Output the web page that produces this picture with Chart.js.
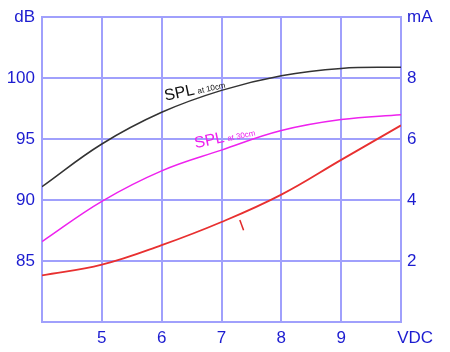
<!DOCTYPE html>
<html>
<head>
<meta charset="utf-8">
<script src="https://cdn.jsdelivr.net/npm/chart.js@4"></script>
<style>
  html, body { margin: 0; padding: 0; background: #fff; }
  #wrap { width: 450px; height: 352px; }
</style>
</head>
<body>
<div id="wrap"><canvas id="chart" width="450" height="352"></canvas></div>
<script>
// supply voltage (VDC)
const volts = [4, 5, 6, 7, 8, 9, 10];
// SPL at 10cm, dB
const spl10 = [91.1, 94.6, 97.2, 99.0, 100.2, 100.8, 100.9];
// SPL at 30cm, dB
const spl30 = [86.6, 89.9, 92.4, 94.1, 95.7, 96.6, 97.0];
// current, mA (right axis)
const current = [1.53, 1.88, 2.52, 3.28, 4.18, 5.32, 6.45];

const blue = "#1c1cd0";
const gridBlue = "#a0a0fc";
const font = { family: "Liberation Sans, Arial, sans-serif", size: 17 };

const pts = arr => arr.map((v, i) => ({ x: volts[i], y: v }));

// text labels on the curves
const curveLabels = {
  id: "curveLabels",
  afterDatasetsDraw(chart) {
    const { ctx, scales } = chart;
    const put = (x, y, scale, rot, color, parts) => {
      const px = scales.x.getPixelForValue(x);
      const py = scales[scale].getPixelForValue(y);
      ctx.save();
      ctx.translate(px, py);
      ctx.rotate(rot * Math.PI / 180);
      ctx.fillStyle = color;
      ctx.textBaseline = "middle";
      let dx = 0;
      parts.forEach(p => {
        ctx.font = p.size + "px Liberation Sans, Arial, sans-serif";
        ctx.fillText(p.text, dx, p.dy || 0);
        dx += ctx.measureText(p.text).width + (p.gap || 0);
      });
      ctx.restore();
    };
    put(6.05, 98.5, "y", -12, "#111", [
      { text: "SPL", size: 16, gap: 3 },
      { text: "at 10cm", size: 8, dy: 2 }
    ]);
    put(6.55, 94.6, "y", -12, "#ee22ee", [
      { text: "SPL", size: 16, gap: 3 },
      { text: "at 30cm", size: 8, dy: 2 }
    ]);
    put(7.31, 3.12, "y2", -20, "#e02828", [
      { text: "I", size: 16 }
    ]);
  }
};

new Chart(document.getElementById("chart"), {
  type: "line",
  data: {
    datasets: [
      {
        label: "SPL at 10cm",
        data: pts(spl10),
        borderColor: "#333333",
        borderWidth: 1.5,
        yAxisID: "y"
      },
      {
        label: "SPL at 30cm",
        data: pts(spl30),
        borderColor: "#ee22ee",
        borderWidth: 1.5,
        yAxisID: "y"
      },
      {
        label: "I",
        data: pts(current),
        borderColor: "#e83030",
        borderWidth: 1.8,
        yAxisID: "y2"
      }
    ]
  },
  options: {
    responsive: false,
    animation: false,
    layout: { padding: { top: 14, left: 0, right: 0, bottom: 0 } },
    elements: {
      point: { radius: 0 },
      line: { tension: 0.4 }
    },
    plugins: {
      legend: { display: false },
      tooltip: { enabled: false }
    },
    scales: {
      x: {
        type: "linear",
        min: 4,
        max: 10,
        afterFit: s => { s.height = 30; },
        border: { color: gridBlue, width: 2 },
        grid: { color: gridBlue, lineWidth: 2, drawTicks: false },
        ticks: {
          stepSize: 1,
          autoSkip: false,
          color: blue,
          font,
          padding: 6,
          maxRotation: 0,
          callback: v => v === 4 ? "" : v === 10 ? "      VDC" : v
        }
      },
      y: {
        position: "left",
        min: 80,
        max: 105,
        afterFit: s => { s.width = 42; },
        border: { color: gridBlue, width: 2 },
        grid: { color: gridBlue, lineWidth: 2, drawTicks: false },
        ticks: {
          stepSize: 5,
          autoSkip: false,
          color: blue,
          font,
          padding: 7,
          callback: v => v === 80 ? "" : v === 105 ? "dB" : v
        }
      },
      y2: {
        position: "right",
        min: 0,
        max: 10,
        afterFit: s => { s.width = 49; },
        border: { color: gridBlue, width: 2 },
        grid: { display: false, drawTicks: false },
        ticks: {
          stepSize: 2,
          autoSkip: false,
          color: blue,
          font,
          padding: 6,
          callback: v => v === 0 ? "" : v === 10 ? "mA" : v
        }
      }
    }
  },
  plugins: [curveLabels]
});
</script>
</body>
</html>
